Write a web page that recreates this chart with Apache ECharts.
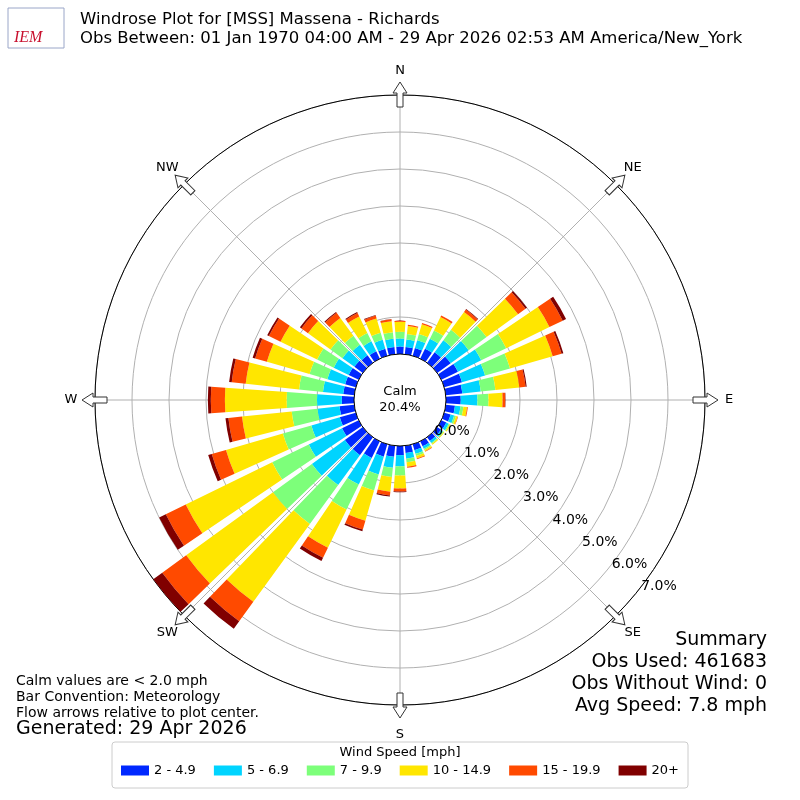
<!DOCTYPE html>
<html>
<head>
<meta charset="utf-8">
<script src="https://cdn.jsdelivr.net/npm/echarts@6/dist/echarts.min.js"></script>
<style>html,body{margin:0;background:#fff}#main{width:800px;height:800px}</style>
</head>
<body>
<div id="main"></div>
<script>
// directions 0..350 step 10, values in % of obs
var dirs = [];
for (var d = 0; d < 360; d += 10) dirs.push(String(d));
var bandNames = ['2 - 4.9', '5 - 6.9', '7 - 9.9', '10 - 14.9', '15 - 19.9', '20+'];
var bandColors = ['#0028ff', '#00d4ff', '#7dff7a', '#ffe600', '#ff4a00', '#800000'];
var s1 = [.20,.20,.22,.30,.35,.45,.50,.50,.45,.40,.25,.18,.15,.13,.13,.15,.17,.20,.25,.30,.35,.50,.60,.60,.50,.45,.40,.33,.30,.30,.30,.28,.25,.22,.20,.20];
var s2 = [.22,.20,.22,.30,.40,.60,.70,.65,.50,.45,.15,.10,.07,.06,.06,.07,.10,.15,.30,.30,.50,.80,1.0,1.1,1.0,.80,.60,.67,.55,.50,.45,.40,.35,.30,.25,.22];
var s3 = [.18,.15,.17,.25,.35,.60,.75,.70,.40,.30,.08,.05,.03,.03,.03,.04,.06,.10,.25,.25,.45,.75,1.3,1.3,1.1,.80,.70,.82,.65,.50,.50,.40,.30,.25,.20,.18];
var s4 = [.27,.22,.28,.40,.60,1.05,1.30,1.20,.65,.38,.10,.05,.03,.02,.03,.04,.07,.12,.35,.40,.85,1.15,2.6,2.9,2.6,1.6,1.35,1.67,1.45,1.2,1.1,.75,.60,.50,.40,.30];
var s5 = [.03,.03,.03,.05,.08,.25,.40,.25,.17,.07,.02,.01,0,0,0,.01,.02,.03,.08,.10,.25,.30,.65,.80,.60,.40,.37,.38,.38,.33,.35,.22,.17,.10,.08,.05];
var s6 = [0,0,0,0,.02,.05,.10,.05,.03,.01,0,0,0,0,0,0,0,0,.02,.03,.05,.10,.25,.30,.20,.10,.08,.08,.07,.07,.05,.05,.03,.03,.02,.01];
var bandData = [s1, s2, s3, s4, s5, s6];
var ringTicks = [0, 1, 2, 3, 4, 5, 6, 7];
var compass = [['N',0],['NE',45],['E',90],['SE',135],['S',180],['SW',225],['W',270],['NW',315]];

var cx = 400, cy = 400, r0 = 46, r1 = 305;
var font = 'DejaVu Sans';

var series = bandData.map(function (arr, i) {
  return {
    name: bandNames[i], type: 'bar', coordinateSystem: 'polar', polarIndex: 0,
    stack: 'w', data: arr, barCategoryGap: '20%', z: 5,
    itemStyle: { color: bandColors[i] }
  };
});

var graphics = [];
// compass labels and arrows
compass.forEach(function (c) {
  var a = c[1] * Math.PI / 180;
  var lr = r1 + 24;
  graphics.push({
    type: 'text', x: cx + lr * Math.sin(a), y: cy - lr * Math.cos(a) + (c[1] === 180 ? 6 : 0),
    style: { text: c[0], font: '13px ' + font, fill: '#000', textAlign: 'center', textVerticalAlign: 'middle' }, z: 10
  });
  var ar = r1;
  graphics.push({
    type: 'polygon', x: cx + ar * Math.sin(a), y: cy - ar * Math.cos(a), rotation: -a,
    shape: { points: [[-3, -2], [-3, -16], [-7, -16], [0, -27], [7, -16], [3, -16], [3, -2]].map(function (p) { return [p[0], p[1] + 14]; }) },
    style: { fill: '#fff', stroke: '#333', lineWidth: 1 }, z: 10
  });
});
// calm circle and outer circle
graphics.push({ type: 'circle', shape: { cx: cx, cy: cy, r: r0 }, style: { fill: '#fff', stroke: '#000', lineWidth: 1 }, z: 8 });
graphics.push({ type: 'circle', shape: { cx: cx, cy: cy, r: r1 }, style: { fill: 'none', stroke: '#000', lineWidth: 1 }, z: 2 });
graphics.push({ type: 'text', x: cx, y: cy, style: { text: 'Calm\n20.4%', font: '13px ' + font, fill: '#000', textAlign: 'center', textVerticalAlign: 'middle', lineHeight: 16 }, z: 9 });
// titles
graphics.push({ type: 'text', x: 80, y: 10, style: { text: 'Windrose Plot for [MSS] Massena - Richards\nObs Between: 01 Jan 1970 04:00 AM - 29 Apr 2026 02:53 AM America/New_York', font: '16.5px ' + font, fill: '#000', lineHeight: 19 } });
graphics.push({ type: 'text', x: 14, y: 30, style: { text: 'IEM', font: 'italic 16px Liberation Serif', fill: '#c8102e' } });
graphics.push({ type: 'rect', shape: { x: 8, y: 8, width: 56, height: 40 }, style: { fill: 'none', stroke: '#9aa6c8', lineWidth: 1 } });
graphics.push({ type: 'text', x: 767, y: 629, style: { text: 'Summary\nObs Used: 461683\nObs Without Wind: 0\nAvg Speed: 7.8 mph', font: '19px ' + font, fill: '#000', textAlign: 'right', lineHeight: 22 } });
graphics.push({ type: 'text', x: 16, y: 673, style: { text: 'Calm values are < 2.0 mph\nBar Convention: Meteorology\nFlow arrows relative to plot center.', font: '14px ' + font, fill: '#000', lineHeight: 16 } });
graphics.push({ type: 'text', x: 16, y: 720, style: { text: 'Generated: 29 Apr 2026', font: '19px ' + font, fill: '#000' } });
graphics.push({ type: 'rect', shape: { x: 112, y: 742, width: 576, height: 46, r: 3 }, style: { fill: '#fff', stroke: '#ccc', lineWidth: 1 }, z: 0 });
graphics.push({ type: 'text', x: 400, y: 753, style: { text: 'Wind Speed [mph]', font: '13px ' + font, fill: '#000', textAlign: 'center', textVerticalAlign: 'middle' }, z: 1 });

var chart = echarts.init(document.getElementById('main'));
chart.setOption({
  animation: false,
  textStyle: { fontFamily: font },
  polar: [
    { center: [cx, cy], radius: [r0, r1] },
    { center: [cx, cy], radius: [0, r1] },
    { center: [cx, cy], radius: [r0, r1] }
  ],
  angleAxis: [
    { polarIndex: 0, type: 'category', data: dirs, startAngle: 95, clockwise: true,
      axisLine: { show: false }, axisTick: { show: false }, axisLabel: { show: false }, splitLine: { show: false } },
    { polarIndex: 1, type: 'value', min: 0, max: 360, interval: 45, startAngle: 90, clockwise: true,
      axisLine: { show: false }, axisTick: { show: false }, axisLabel: { show: false },
      splitLine: { show: true, lineStyle: { color: '#b0b0b0', width: 1 } } },
    { polarIndex: 2, type: 'value', min: 0, max: 360, startAngle: -37, clockwise: true,
      axisLine: { show: false }, axisTick: { show: false }, axisLabel: { show: false }, splitLine: { show: false } }
  ],
  radiusAxis: [
    { polarIndex: 0, min: 0, max: 7, interval: 1, axisLine: { show: false }, axisTick: { show: false }, axisLabel: { show: false },
      splitLine: { show: true, lineStyle: { color: '#b0b0b0', width: 1 } }, z: 1 },
    { polarIndex: 1, min: 0, max: 1, axisLine: { show: false }, axisTick: { show: false }, axisLabel: { show: false }, splitLine: { show: false } },
    { polarIndex: 2, min: 0, max: 7, interval: 1, axisLine: { show: false }, axisTick: { show: false }, splitLine: { show: false },
      axisLabel: { show: true, color: '#000', fontSize: 14, margin: -4, formatter: function (v) { return ringTicks.indexOf(v) >= 0 ? v.toFixed(1) + '%' : ''; } }, z: 9 }
  ],
  legend: {
    data: bandNames, bottom: 18, left: 'center', itemWidth: 28, itemHeight: 10, itemGap: 18,
    icon: 'rect', textStyle: { fontSize: 13, color: '#000', fontFamily: font }, selectedMode: false, z: 5
  },
  graphic: graphics,
  series: series
});
</script>
</body>
</html>
